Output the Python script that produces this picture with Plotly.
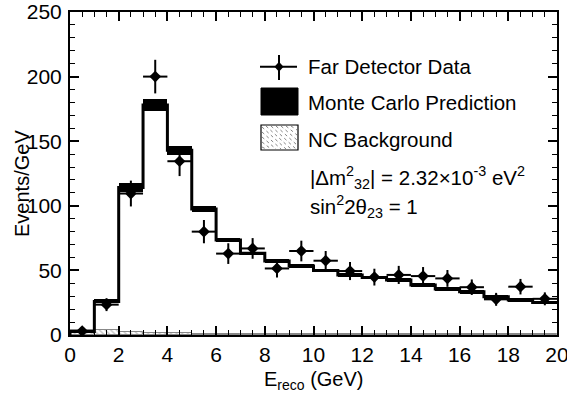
import plotly.graph_objects as go

# Bin edges (GeV)
bin_lo = list(range(0, 20))
bin_centers = [b + 0.5 for b in bin_lo]

# Far Detector data (Events/GeV) and errors
data_vals = [3, 23.5, 109.5, 200, 134.5, 80, 63, 67, 51.5, 65, 57.5, 49.5, 44.8, 46.5, 45.6, 43.8, 37, 27.6, 37.4, 28]
data_err = [2, 5, 10, 13, 11.5, 9, 8, 8, 7, 8, 7.5, 7, 6.5, 7, 7, 6.5, 6, 5, 6, 5]

# Monte Carlo prediction band (lower, upper)
mc_low = [1.5, 24.5, 110.5, 173, 139.5, 95.5, 72, 62, 56, 52, 48.5, 45, 43.2, 41, 37.3, 34.2, 32.1, 28.2, 25.6, 23.8]
mc_high = [4, 27.5, 118, 183, 146.5, 99.5, 75, 64.5, 58.5, 55, 51.2, 47.8, 46, 44, 40.1, 37, 34.9, 31, 28.4, 26.4]

# NC background
nc_vals = [3.5, 3.5, 2.5, 1.5, 1.2, 1.0, 0.8, 0.8, 0.7, 0.7, 0.6, 0.6, 0.5, 0.5, 0.5, 0.5, 0.4, 0.4, 0.4, 0.4]

FONT = "Liberation Sans, Arial, Helvetica, sans-serif"

fig = go.Figure()

# NC background hatched
fig.add_trace(go.Bar(
    x=bin_centers, y=nc_vals, width=1,
    marker=dict(color="white", line=dict(color="#888", width=1),
                pattern=dict(shape="\\", fgcolor="#777", bgcolor="white", size=4, solidity=0.3)),
    showlegend=False, hoverinfo="skip"))

# MC band
band_h = [h - l for l, h in zip(mc_low, mc_high)]
fig.add_trace(go.Bar(
    x=bin_centers, y=band_h, base=mc_low, width=1,
    marker=dict(color="black", line=dict(width=0)),
    showlegend=False, hoverinfo="skip"))

# MC step outline (through band middle)
mid = [(l + h) / 2 for l, h in zip(mc_low, mc_high)]
step_x = bin_lo + [20]
step_y = mid + [mid[-1]]
fig.add_trace(go.Scatter(
    x=[0] + step_x, y=[0] + step_y, mode="lines", line=dict(color="black", width=3, shape="hv"),
    showlegend=False, hoverinfo="skip"))

# Data points
fig.add_trace(go.Scatter(
    x=bin_centers, y=data_vals, mode="markers",
    marker=dict(symbol="diamond", size=9, color="black"),
    error_x=dict(type="constant", value=0.5, color="black", thickness=2, width=0),
    error_y=dict(type="data", array=data_err, color="black", thickness=2, width=0),
    showlegend=False))

# Manual legend (paper coordinates)
def px(x):
    return (x - 70) / 487

def py(y):
    return (335 - y) / 323

shapes = []
shapes.append(dict(type="line", xref="paper", yref="paper", x0=px(260), x1=px(297), y0=py(66.7), y1=py(66.7),
                   line=dict(color="black", width=2)))
shapes.append(dict(type="line", xref="paper", yref="paper", x0=px(279), x1=px(279), y0=py(55), y1=py(80),
                   line=dict(color="black", width=2)))
cx, cy = px(279), py(66.7)
dx, dy = 4.5 / 487, 5 / 323
shapes.append(dict(type="path", xref="paper", yref="paper",
                   path=f"M {cx-dx} {cy} L {cx} {cy+dy} L {cx+dx} {cy} L {cx} {cy-dy} Z",
                   fillcolor="black", line=dict(color="black", width=0)))
shapes.append(dict(type="rect", xref="paper", yref="paper", x0=px(261), x1=px(298), y0=py(115), y1=py(88),
                   fillcolor="black", line=dict(color="black", width=1)))
shapes.append(dict(type="rect", xref="paper", yref="paper", x0=px(261), x1=px(298), y0=py(150), y1=py(125),
                   fillcolor="white", line=dict(color="black", width=1.2)))
for k in range(-20, 40, 5):
    xa = 261 + k
    xb = xa + 25
    ya, yb = 126, 149
    x0c, y0c, x1c, y1c = xa, ya, xb, yb
    if x0c < 262:
        y0c += (262 - x0c); x0c = 262
    if x1c > 297:
        y1c -= (x1c - 297); x1c = 297
    if x1c > x0c:
        shapes.append(dict(type="line", xref="paper", yref="paper", x0=px(x0c), x1=px(x1c), y0=py(y0c), y1=py(y1c),
                           line=dict(color="#666", width=0.8, dash="dot")))

fs = 20.5
annotations = [
    dict(text="Far Detector Data", x=px(306), y=py(66), xanchor="left", yanchor="middle"),
    dict(text="Monte Carlo Prediction", x=px(306), y=py(102), xanchor="left", yanchor="middle"),
    dict(text="NC Background", x=px(306), y=py(139), xanchor="left", yanchor="middle"),
    dict(text="|Δm<sup>2</sup><sub>32</sub>| = 2.32×10<sup>-3</sup> eV<sup>2</sup>", x=px(308), y=py(177), xanchor="left", yanchor="middle"),
    dict(text="sin<sup>2</sup>2θ<sub>23</sub> = 1", x=px(308), y=py(206), xanchor="left", yanchor="middle"),
]
for a in annotations:
    a.update(font=dict(size=fs, color="black", family=FONT))
# axis titles
annotations.append(dict(text="E<sub>reco</sub> (GeV)", x=px(313), y=py(380), xanchor="center", yanchor="middle",
                        font=dict(size=20, color="black", family=FONT)))
annotations.append(dict(text="Events/GeV", x=px(22), y=py(184), xanchor="center", yanchor="middle", textangle=-90,
                        font=dict(size=20, color="black", family=FONT)))
for a in annotations:
    a.update(xref="paper", yref="paper", showarrow=False)

axis_common = dict(showline=True, linecolor="black", linewidth=2, mirror="allticks", ticks="inside",
                   ticklen=9, tickwidth=1.5, tickcolor="black", showgrid=False, zeroline=False,
                   automargin=False, ticklabeloverflow="allow",
                   tickfont=dict(size=21, color="black", family=FONT))

fig.update_layout(
    width=567, height=396,
    margin=dict(l=70, r=10, t=12, b=61),
    paper_bgcolor="white", plot_bgcolor="white",
    barmode="overlay", bargap=0,
    shapes=shapes, annotations=annotations,
    xaxis=dict(range=[0, 20], dtick=2, tick0=0,
               minor=dict(dtick=0.5, ticks="inside", ticklen=5, tickcolor="black", tickwidth=1),
               **axis_common),
    yaxis=dict(range=[0, 250], dtick=50, tick0=0, ticklabelstandoff=2,
               minor=dict(dtick=10, ticks="inside", ticklen=5, tickcolor="black", tickwidth=1),
               **axis_common),
    showlegend=False,
)

fig.write_html("out.html", config={"displayModeBar": False},
               post_script="document.body.style.margin='0px';")
